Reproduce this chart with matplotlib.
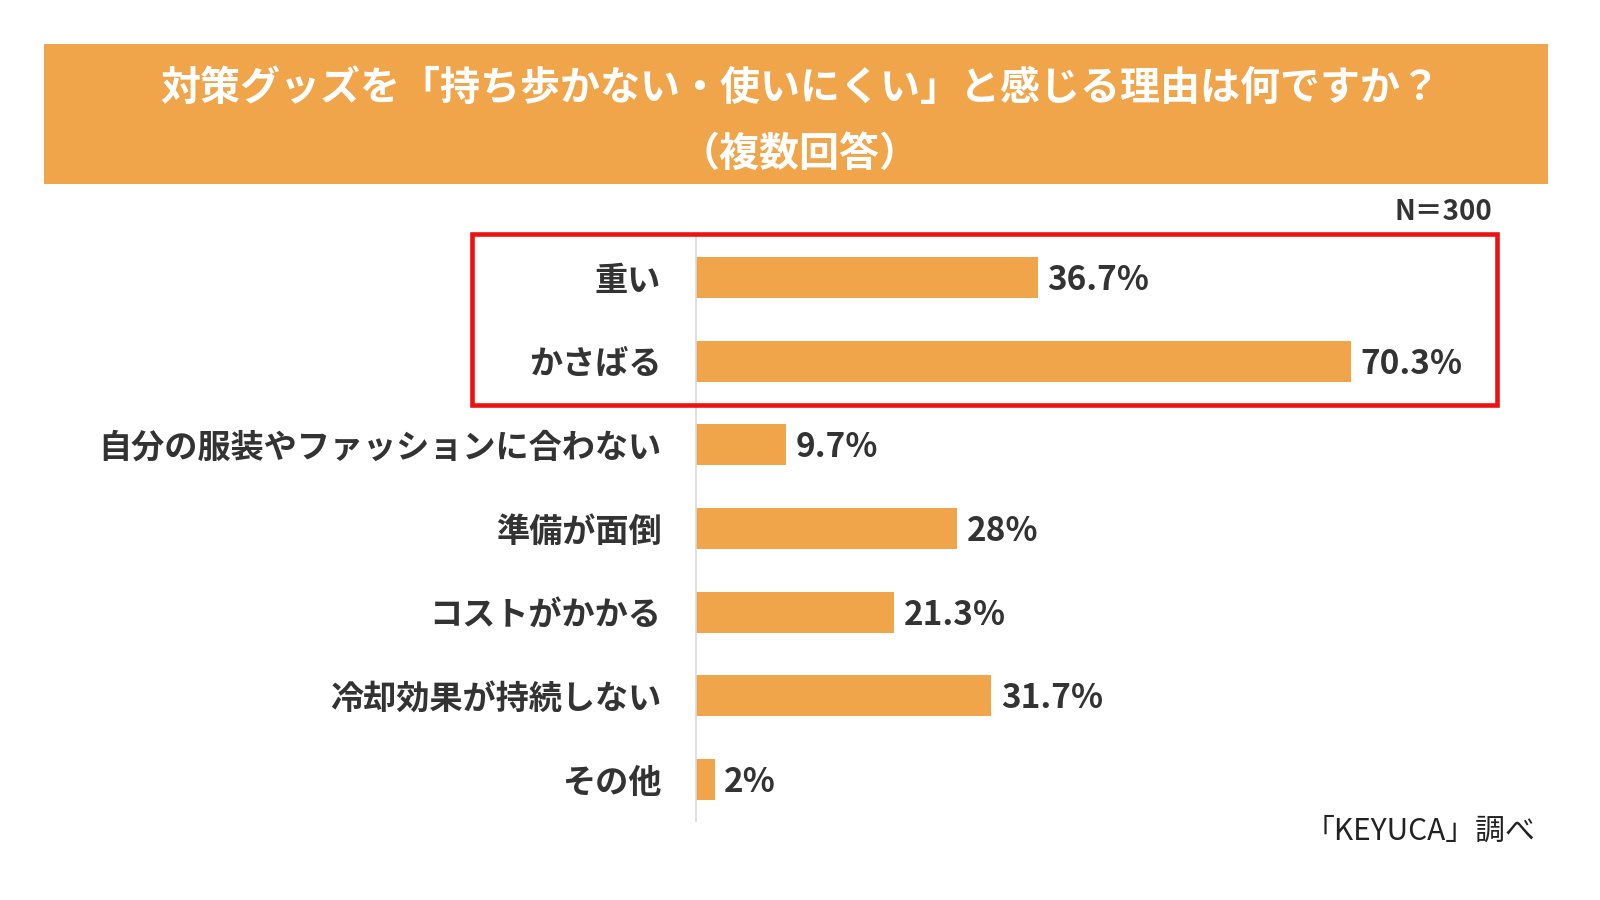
import matplotlib.pyplot as plt
from matplotlib.patches import Rectangle

plt.rcParams['font.family'] = ['Noto Sans CJK JP', 'DejaVu Sans']

# データ
labels = ['重い', 'かさばる', '自分の服装やファッションに合わない', '準備が面倒',
          'コストがかかる', '冷却効果が持続しない', 'その他']
values = [36.7, 70.3, 9.7, 28, 21.3, 31.7, 2]
value_texts = ['36.7%', '70.3%', '9.7%', '28%', '21.3%', '31.7%', '2%']
title_lines = ['対策グッズを「持ち歩かない・使いにくい」と感じる理由は何ですか？', '（複数回答）']

# 参照画像上の座標系（表示スケール）
W, H = 1568, 882
orange = '#F0A54A'
textc = '#333333'

fig = plt.figure(figsize=(16, 9), dpi=100)
fig.patch.set_facecolor('white')

# タイトル帯
fig.patches.append(Rectangle((43 / W, 1 - 180 / H), (1517 - 43) / W, (180 - 43) / H,
                             transform=fig.transFigure, facecolor=orange,
                             edgecolor='none', zorder=0))
fig.text(0.5, 1 - 87 / H, title_lines[0], ha='center', va='center',
         fontsize=28.8, fontweight='bold', color='white')
fig.text(0.5, 1 - 151 / H, title_lines[1], ha='center', va='center',
         fontsize=28.8, fontweight='bold', color='white')

# 棒グラフ
ax_l, ax_r, ax_t, ax_b = 682, 1517, 231, 805
ax = fig.add_axes([ax_l / W, 1 - ax_b / H, (ax_r - ax_l) / W, (ax_b - ax_t) / H])
xmax = (ax_r - ax_l) / ((1324 - 682) / 70.3)
ypos = list(range(len(labels)))
ax.barh(ypos, values, height=0.49, color=orange, zorder=2)
ax.set_xlim(0, xmax)
ax.set_ylim(len(labels) - 0.5, -0.5)
for s in ['top', 'right', 'bottom']:
    ax.spines[s].set_visible(False)
ax.spines['left'].set_color('#d9d9d9')
ax.spines['left'].set_linewidth(1.2)
ax.set_xticks([])
ax.set_yticks(ypos)
ax.set_yticklabels(labels, fontsize=23.9, fontweight='bold', color=textc)
ax.tick_params(axis='y', length=0, pad=25)
ax.patch.set_alpha(0)

for y, v, t in zip(ypos, values, value_texts):
    ax.annotate(t, (v, y), xytext=(7, -2), textcoords='offset points',
                ha='left', va='center', fontsize=24, fontweight='bold', color=textc)

# 赤枠
fig.patches.append(Rectangle((463 / W, 1 - 397 / H), (1467 - 463) / W, (397 - 229) / H,
                             transform=fig.transFigure, facecolor='none',
                             edgecolor='#EE1111', linewidth=3.3, zorder=5))

fig.text(1462 / W, 1 - 208 / H, 'N＝300', ha='right', va='center',
         fontsize=20, fontweight='bold', color=textc)
fig.text(1505 / W, 1 - 815 / H, '「KEYUCA」調べ', ha='right', va='center',
         fontsize=21.5, fontweight='normal', color='#222222')

fig.savefig('out.png', dpi=100)
